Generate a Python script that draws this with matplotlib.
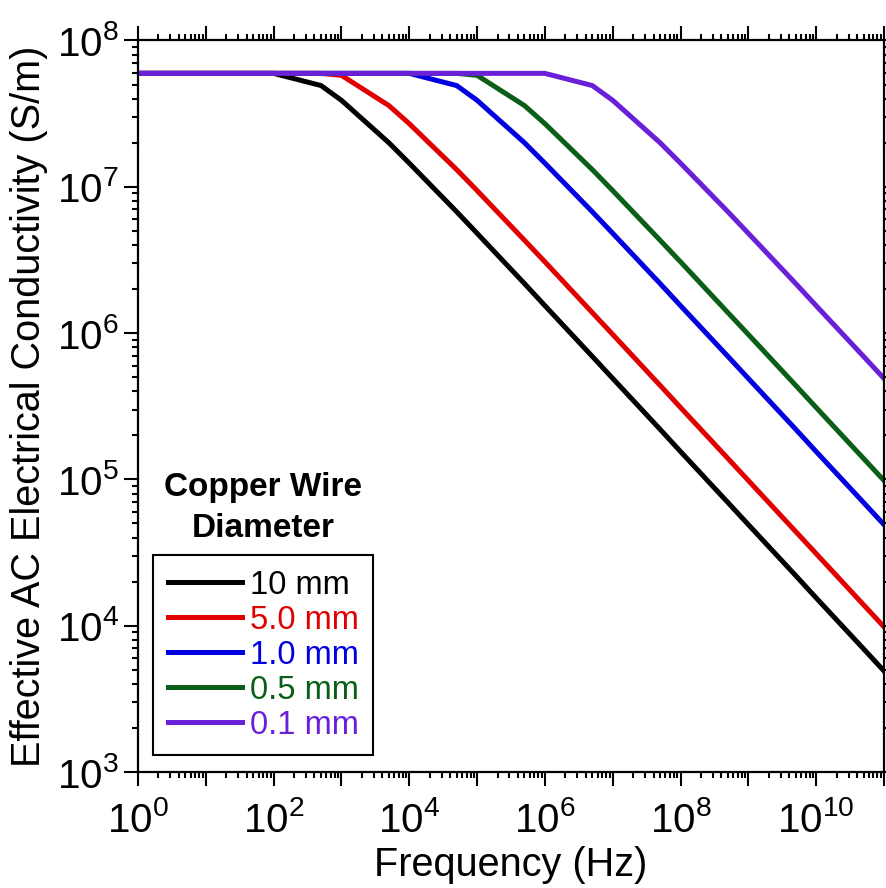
import numpy as np
import matplotlib
matplotlib.use("Agg")
import matplotlib.pyplot as plt
from matplotlib.ticker import LogLocator, FuncFormatter, NullFormatter

plt.rcParams["font.family"] = ["Liberation Sans", "DejaVu Sans"]
plt.rcParams["mathtext.fontset"] = "custom"
plt.rcParams["mathtext.rm"] = "Liberation Sans"

# frequency grid (Hz), two points per decade
freq_hz = [1e0, 5e0, 1e1, 5e1, 1e2, 5e2, 1e3, 5e3, 1e4, 5e4, 1e5, 5e5,
           1e6, 5e6, 1e7, 5e7, 1e8, 5e8, 1e9, 5e9, 1e10, 5e10, 1e11]

# effective AC conductivity (S/m) per wire diameter
sigma_10mm = [5.96e7, 5.96e7, 5.96e7, 5.96e7, 5.96e7, 4.92e7, 3.90e7, 2.00e7,
              1.45e7, 6.75e6, 4.81e6, 2.18e6, 1.54e6, 6.93e5, 4.90e5, 2.20e5,
              1.55e5, 6.95e4, 4.91e4, 2.20e4, 1.55e4, 6.95e3, 4.91e3]
sigma_5mm = [5.96e7, 5.96e7, 5.96e7, 5.96e7, 5.96e7, 5.96e7, 5.78e7, 3.59e7,
             2.70e7, 1.31e7, 9.42e6, 4.31e6, 3.07e6, 1.38e6, 9.79e5, 4.39e5,
             3.10e5, 1.39e5, 9.83e4, 4.40e4, 3.11e4, 1.39e4, 9.83e3]
sigma_1mm = [5.96e7, 5.96e7, 5.96e7, 5.96e7, 5.96e7, 5.96e7, 5.96e7, 5.96e7,
             5.96e7, 4.92e7, 3.90e7, 2.00e7, 1.45e7, 6.75e6, 4.81e6, 2.18e6,
             1.54e6, 6.93e5, 4.90e5, 2.20e5, 1.55e5, 6.95e4, 4.91e4]
sigma_05mm = [5.96e7, 5.96e7, 5.96e7, 5.96e7, 5.96e7, 5.96e7, 5.96e7, 5.96e7,
              5.96e7, 5.96e7, 5.78e7, 3.59e7, 2.70e7, 1.31e7, 9.42e6, 4.31e6,
              3.07e6, 1.38e6, 9.79e5, 4.39e5, 3.10e5, 1.39e5, 9.83e4]
sigma_01mm = [5.96e7, 5.96e7, 5.96e7, 5.96e7, 5.96e7, 5.96e7, 5.96e7, 5.96e7,
              5.96e7, 5.96e7, 5.96e7, 5.96e7, 5.96e7, 4.92e7, 3.90e7, 2.00e7,
              1.45e7, 6.75e6, 4.81e6, 2.18e6, 1.54e6, 6.93e5, 4.90e5]

labels = ["10 mm", "5.0 mm", "1.0 mm", "0.5 mm", "0.1 mm"]
colors = ["#000000", "#e00000", "#0000e0", "#0b5e17", "#6a1fd8"]
series = [sigma_10mm, sigma_5mm, sigma_1mm, sigma_05mm, sigma_01mm]

fig = plt.figure(figsize=(8.86, 8.88), dpi=100)
ax = fig.add_axes([0.1558, 0.1306, 0.8419, 0.8238])

for ys, c, lab in zip(series, colors, labels):
    ax.plot(freq_hz, ys, color=c, lw=3.6, label=lab, solid_joinstyle="miter")

ax.set_xscale("log")
ax.set_yscale("log")
ax.set_xlim(1, 1e11)
ax.set_ylim(1e3, 1e8)

def pow_fmt(step):
    def f(v, pos):
        e = int(round(np.log10(v)))
        if e % step:
            return ""
        return r"$\mathregular{10^{%d}}$" % e
    return FuncFormatter(f)

ax.xaxis.set_major_locator(LogLocator(base=10, numticks=30))
ax.xaxis.set_minor_locator(LogLocator(base=10, subs=np.arange(2, 10), numticks=30))
ax.xaxis.set_major_formatter(pow_fmt(2))
ax.xaxis.set_minor_formatter(NullFormatter())
ax.yaxis.set_major_locator(LogLocator(base=10, numticks=30))
ax.yaxis.set_minor_locator(LogLocator(base=10, subs=np.arange(2, 10), numticks=30))
ax.yaxis.set_major_formatter(pow_fmt(1))
ax.yaxis.set_minor_formatter(NullFormatter())

ax.tick_params(which="both", direction="out", top=True, right=True,
               labeltop=False, labelright=False, width=1.5, color="black")
ax.tick_params(which="major", length=10, labelsize=29)
ax.tick_params(axis="y", which="major", pad=4)
ax.tick_params(axis="x", which="major", pad=11)
ax.tick_params(which="minor", length=4.5)
for s in ax.spines.values():
    s.set_linewidth(1.6)

ax.set_xlabel("Frequency (Hz)", fontsize=28.5, labelpad=4)
ax.set_ylabel("Effective AC Electrical Conductivity (S/m)", fontsize=28.5, labelpad=6)

leg = ax.legend(loc="lower left", bbox_to_anchor=(0.020, 0.023), borderaxespad=0,
                fontsize=23.5, handlelength=2.27, handletextpad=0.25,
                labelspacing=0.12, borderpad=0.45, frameon=True, fancybox=False,
                edgecolor="black", framealpha=1, labelcolor="linecolor")
leg.get_frame().set_linewidth(1.5)
for ln in leg.get_lines():
    ln.set_linewidth(3.6)

ax.text(0.1676, 0.361, "Copper Wire\nDiameter", transform=ax.transAxes,
        ha="center", va="center", fontsize=24, fontweight="bold", linespacing=1.4)

fig.savefig("out.png", dpi=100)
